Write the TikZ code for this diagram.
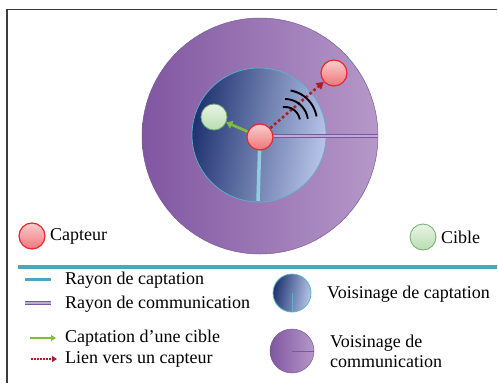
\documentclass[tikz,border=0pt]{standalone}
\usepackage{fontspec}
\setmainfont{Liberation Serif}
\usetikzlibrary{arrows.meta,shapes.geometric}
\definecolor{purpD}{RGB}{128,86,161}
\definecolor{purpL}{RGB}{182,152,200}
\definecolor{purpE}{RGB}{120,90,155}
\definecolor{navyD}{RGB}{30,50,112}
\definecolor{navyL}{RGB}{184,197,232}
\definecolor{tealE}{RGB}{90,180,200}
\definecolor{teal2}{RGB}{78,165,194}
\definecolor{skyB}{RGB}{145,205,222}
\definecolor{redE}{RGB}{232,40,46}
\definecolor{redT}{RGB}{250,205,205}
\definecolor{redB}{RGB}{238,118,120}
\definecolor{grnE}{RGB}{110,172,110}
\definecolor{grnT}{RGB}{232,244,228}
\definecolor{grnB}{RGB}{185,220,178}
\definecolor{grnA}{RGB}{125,190,65}
\definecolor{redA}{RGB}{176,28,34}
\definecolor{lavL}{RGB}{190,170,215}
\definecolor{frameC}{RGB}{60,60,60}
\tikzset{
  commzone/.style={circle,draw=purpE,line width=0.5pt,left color=purpD,right color=purpL,inner sep=0pt},
  captzone/.style={circle,draw=tealE,line width=0.7pt,left color=navyD,right color=navyL,shading angle=80,inner sep=0pt},
  capteur/.style={circle,draw=redE,line width=1.2pt,top color=redT,bottom color=redB,minimum size=26pt,inner sep=0pt},
  cible/.style={circle,draw=grnE,line width=0.8pt,top color=grnT,bottom color=grnB,minimum size=26pt,inner sep=0pt},
  raycapt/.style={draw=skyB,line width=3.5pt},
  raycomm/.style={draw=purpE,double=lavL,double distance=1.4pt,line width=0.9pt},
  captarrow/.style={draw=grnA,line width=2.6pt,-{Triangle[length=6pt,width=8pt]}},
  lienarrow/.style={draw=redA,line width=2.6pt,dash pattern=on 2.6pt off 2.6pt,-{Triangle[length=7pt,width=8pt]}},
  wave/.style={draw=black,line width=1.9pt,line cap=butt},
  lbl/.style={font=\fontsize{18}{20}\selectfont,anchor=west,inner sep=0pt},
}
\begin{document}
\begin{tikzpicture}[x=1pt,y=-1pt]
\useasboundingbox (0,0) rectangle (498,383);
% frame
\draw[frameC,line width=1.6pt] (7,383) -- (7,9.5) -- (497,9.5);
% zones
\node[commzone,minimum size=236pt] (comm) at (260,136) {};
\node[captzone,minimum size=134pt] (capt) at (259,135) {};
% sensors
\coordinate (capbot) at (258,201);
\coordinate (commE) at (378,136);
\draw[raycomm] (260,136) -- (commE);
\draw[raycapt] (260,137) -- (capbot);
\node[capteur] (s) at (260,137) {};
\node[cible] (t) at (214,117) {};
\node[capteur] (s2) at (334,73) {};
\draw[captarrow] (s) -- (t);
\draw[lienarrow] (s) -- (s2);
% waves
\draw[wave] plot[domain=10:98,samples=30,smooth] ({285+15*cos(\x)},{122-15*sin(\x)});
\draw[wave] plot[domain=8:90,samples=30,smooth] ({285+23*cos(\x)},{122-23*sin(\x)});
\draw[wave] plot[domain=10:80,samples=30,smooth] ({285+32*cos(\x)},{122-32*sin(\x)});
% legend top row
\node[capteur] (lc) at (32,236) {};
\node[lbl] (lct) at (50,236) {Capteur};
\node[cible] (lt) at (423,237) {};
\node[lbl] (ltt) at (441,237) {Cible};
\draw[teal2,line width=4pt] (18,267) -- (497,267);
% legend lines
\coordinate (l1a) at (25,279); \coordinate (l1b) at (51,279);
\draw[draw=teal2,line width=3pt] (l1a) -- (l1b);
\node[lbl] (l1t) at (65,280) {Rayon de captation};
\coordinate (l2a) at (25,303); \coordinate (l2b) at (51,303);
\draw[draw=purpE,double=lavL,double distance=1.4pt,line width=0.9pt] (l2a) -- (l2b);
\node[lbl] (l2t) at (65,304) {Rayon de communication};
\coordinate (l3a) at (30,338); \coordinate (l3b) at (56,338);
\draw[draw=grnA,line width=1.8pt,-{Triangle[length=5pt,width=6pt]}] (l3a) -- (l3b);
\node[lbl] (l3t) at (65,338) {Captation d’une cible};
\coordinate (l4a) at (31,359); \coordinate (l4b) at (57,359);
\draw[draw=redA,line width=1.6pt,dash pattern=on 1.6pt off 1.4pt,-{Triangle[length=5pt,width=6pt]}] (l4a) -- (l4b);
\node[lbl] (l4t) at (65,359) {Lien vers un capteur};
% legend zones
\node[captzone,minimum size=38pt,line width=0.8pt] (v1) at (292,293) {};
\draw[draw=tealE,line width=0.6pt] (v1.center) -- (v1.south);
\node[lbl] (v1t) at (327,294) {Voisinage de captation};
\node[commzone,minimum size=44pt] (v2) at (292,351) {};
\draw[draw=purpE,line width=0.6pt] (v2.center) -- (v2.east);
\node[lbl,align=left] (v2t) at (330,351) {Voisinage de\\communication};
\end{tikzpicture}
\end{document}
